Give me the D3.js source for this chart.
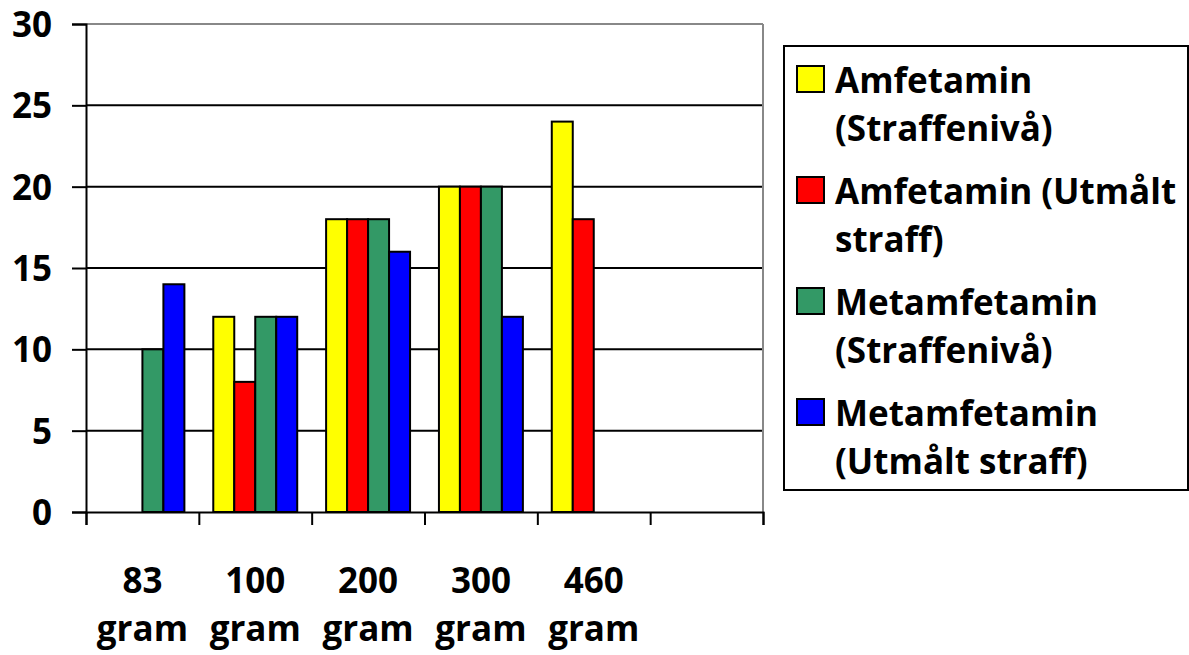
<!DOCTYPE html>
<html><head><meta charset="utf-8">
<script src="https://cdn.jsdelivr.net/npm/d3@7/dist/d3.min.js"></script>
<style>body{margin:0;background:#fff}svg{display:block}text{font-family:"Open Sans",sans-serif;font-weight:bold;fill:#000}</style>
</head><body>
<svg id="c" width="1189" height="655"></svg>
<script>
const categories = ["83 gram","100 gram","200 gram","300 gram","460 gram",""];
const seriesNames = ["Amfetamin (Straffenivå)","Amfetamin (Utmålt straff)","Metamfetamin (Straffenivå)","Metamfetamin (Utmålt straff)"];
const legendLines = [["Amfetamin","(Straffenivå)"],["Amfetamin (Utmålt","straff)"],["Metamfetamin","(Straffenivå)"],["Metamfetamin","(Utmålt straff)"]];
const amfStraffniva = [null,12,18,20,24,null];
const amfUtmalt = [null,8,18,20,18,null];
const metStraffniva = [10,12,18,20,null,null];
const metUtmalt = [14,12,16,12,null,null];
const colors = ["#FFFF00","#FF0000","#339966","#0000FF"];
const yTicks = [0,5,10,15,20,25,30];

const FS = 35;
const series = [amfStraffniva, amfUtmalt, metStraffniva, metUtmalt];
const svg = d3.select("#c");
const L=86,R=763,T=24,B=512;
const x = d3.scaleBand().domain(d3.range(categories.length)).range([L,R]).padding(0);
const bw = x.bandwidth();
const x1 = d3.scaleBand().domain(d3.range(series.length)).range([bw*0.128, bw*0.872]).padding(0);
const y = d3.scaleLinear().domain([0,30]).range([B,T]);

svg.append("g").selectAll("line").data(yTicks.filter(d=>d>0)).join("line")
  .attr("x1",L).attr("x2",R).attr("y1",d=>y(d)).attr("y2",d=>y(d))
  .attr("stroke",d=>d===30?"#888":"#000").attr("stroke-width",2);
svg.append("line").attr("x1",R).attr("x2",R).attr("y1",T).attr("y2",B).attr("stroke","#888").attr("stroke-width",2);

const bars=[];
series.forEach((s,si)=>s.forEach((v,ci)=>{ if(v!=null) bars.push({si,ci,v}); }));
svg.append("g").selectAll("rect").data(bars).join("rect")
  .attr("x",d=>x(d.ci)+x1(d.si)).attr("width",x1.bandwidth())
  .attr("y",d=>y(d.v)).attr("height",d=>y(0)-y(d.v))
  .attr("fill",d=>colors[d.si]).attr("stroke","#000").attr("stroke-width",2);

const ya = svg.append("g").attr("transform",`translate(${L},0)`)
  .call(d3.axisLeft(y).tickValues(yTicks).tickSize(14).tickPadding(20));
ya.select(".domain").attr("stroke","#000").attr("stroke-width",2);
ya.selectAll(".tick line").attr("stroke","#000").attr("stroke-width",2);
ya.selectAll(".tick text").attr("font-size",FS).attr("font-family","Open Sans").attr("font-weight","bold").attr("dy","0.36em");

const xa = svg.append("g").attr("transform",`translate(0,${B})`)
  .call(d3.axisBottom(d3.scaleLinear().domain([0,categories.length]).range([L,R])).tickValues(d3.range(categories.length+1)).tickSize(13).tickFormat(""));
xa.select(".domain").attr("stroke","#000").attr("stroke-width",2);
xa.selectAll(".tick line").attr("stroke","#000").attr("stroke-width",2);

const cl = svg.append("g").selectAll("text").data(categories.map((c,i)=>({c,i})).filter(d=>d.c)).join("text")
  .attr("text-anchor","middle").attr("font-size",FS)
  .attr("transform",d=>`translate(${x(d.i)+bw/2},0)`);
cl.selectAll("tspan").data(d=>d.c.split(" ")).join("tspan")
  .attr("x",0).attr("y",(d,i)=>593+i*48).text(d=>d);

const lg = svg.append("g");
lg.append("rect").attr("x",784).attr("y",46).attr("width",404).attr("height",444).attr("fill","#fff").attr("stroke","#000").attr("stroke-width",2);
const li = lg.selectAll("g.item").data(legendLines).join("g").attr("class","item")
  .attr("transform",(d,i)=>`translate(0,${i*111})`);
li.append("rect").attr("x",797).attr("y",66).attr("width",27).attr("height",26)
  .attr("fill",(d,i)=>colors[i]).attr("stroke","#000").attr("stroke-width",2);
li.append("text").attr("font-size",FS).selectAll("tspan").data(d=>d).join("tspan")
  .attr("x",835).attr("y",(d,i)=>93+i*48).text(d=>d);
</script>
</body></html>
